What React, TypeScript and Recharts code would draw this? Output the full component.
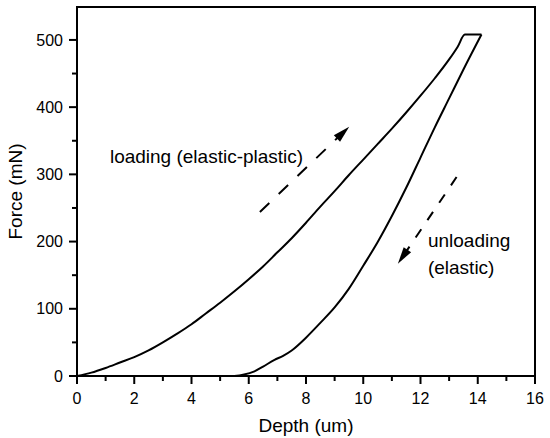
import React from 'react';
import { LineChart, Line, XAxis, YAxis, ReferenceArea, ReferenceDot } from 'recharts';

const FONT = '"Liberation Sans", Arial, sans-serif';

// loading branch (incl. hold at peak)
const loadDepth = [0, 0.5, 1, 1.5, 2, 2.5, 3, 3.5, 4, 4.5, 5, 5.5, 6, 6.5, 7, 7.5, 8, 8.5, 9, 9.5, 10, 10.5, 11, 11.5, 12, 12.5, 13, 13.3, 13.55, 14.13];
const loadForce = [0, 5, 12, 20, 28, 38, 50, 63, 77, 93, 109, 126, 144, 163, 184, 205, 228, 252, 275, 299, 322, 345, 368, 392, 417, 443, 471, 490, 508, 508];

// unloading branch (listed from residual depth up to peak)
const unloadDepth = [5.5, 5.8, 6.2, 6.5, 6.9, 7.2, 7.5, 8, 8.5, 9, 9.5, 10, 10.5, 11, 11.5, 12, 12.5, 13, 13.5, 14.13];
const unloadForce = [0, 2, 7, 14, 24, 30, 38, 57, 79, 102, 130, 164, 199, 238, 280, 325, 370, 413, 456, 508];

// dashed direction arrows: [start, tip]
const loadArrowDepth = [6.39, 9.51];
const loadArrowForce = [244, 371];
const unloadArrowDepth = [13.26, 11.21];
const unloadArrowForce = [296, 167];

const xTicks = [0, 1, 2, 3, 4, 5, 6, 7, 8, 9, 10, 11, 12, 13, 14, 15, 16];
const yTicks = [0, 50, 100, 150, 200, 250, 300, 350, 400, 450, 500];

const toRows = (xs: number[], ys: number[]) => xs.map((d, i) => ({ depth: d, force: ys[i] }));

const loading = toRows(loadDepth, loadForce);
const unloading = toRows(unloadDepth, unloadForce);
const loadArrow = toRows(loadArrowDepth, loadArrowForce);
const unloadArrow = toRows(unloadArrowDepth, unloadArrowForce);

function XTick(props: any) {
  const { x, y, payload } = props;
  const major = payload.value % 2 === 0;
  return (
    <g>
      <line x1={x} x2={x} y1={y} y2={y + (major ? 8 : 5)} stroke="#000" strokeWidth={2} />
      {major && (
        <text x={x} y={y + 28} textAnchor="middle" fontSize={16} fontFamily={FONT} fill="#000">
          {payload.value}
        </text>
      )}
    </g>
  );
}

function YTick(props: any) {
  const { x, y, payload } = props;
  const major = payload.value % 100 === 0;
  return (
    <g>
      <line x1={x} x2={x - (major ? 8 : 5)} y1={y} y2={y} stroke="#000" strokeWidth={2} />
      {major && (
        <text x={x - 14} y={y + 5.6} textAnchor="end" fontSize={16} fontFamily={FONT} fill="#000">
          {payload.value}
        </text>
      )}
    </g>
  );
}

function ArrowDot(props: any) {
  const { cx, cy, index, points } = props;
  if (index !== 1 || !points || points.length < 2) return <g key={index} />;
  const p0 = points[0];
  const ang = Math.atan2(cy - p0.y, cx - p0.x);
  const len = 17;
  const hw = 4.5;
  const bx = cx - len * Math.cos(ang);
  const by = cy - len * Math.sin(ang);
  const nx = -Math.sin(ang) * hw;
  const ny = Math.cos(ang) * hw;
  return (
    <polygon
      key={index}
      points={`${cx},${cy} ${bx + nx},${by + ny} ${bx - nx},${by - ny}`}
      fill="#000"
    />
  );
}

const note = (text: string) => (p: any) => (
  <text x={p.cx} y={p.cy} dominantBaseline="central" fontSize={19} fontFamily={FONT} fill="#000">
    {text}
  </text>
);

export default function App() {
  return (
    <div style={{ width: 550, height: 438 }}>
      <style>{'body{margin:0}'}</style>
      <LineChart width={550} height={438} margin={{ top: 7, right: 15, bottom: 0, left: 0 }}>
        <XAxis
          dataKey="depth"
          type="number"
          domain={[0, 16]}
          ticks={xTicks}
          interval={0}
          height={62}
          tickSize={0}
          tickMargin={0}
          tickLine={false}
          tick={XTick}
          axisLine={{ stroke: '#000', strokeWidth: 2 }}
          label={{ value: 'Depth (um)', position: 'insideBottom', offset: 6, fontSize: 19, fontFamily: FONT, fill: '#000' }}
        />
        <YAxis
          dataKey="force"
          type="number"
          domain={[0, 549]}
          ticks={yTicks}
          interval={0}
          width={77}
          tickSize={0}
          tickMargin={0}
          tickLine={false}
          tick={YTick}
          axisLine={{ stroke: '#000', strokeWidth: 2 }}
          label={{ value: 'Force (mN)', angle: -90, position: 'insideLeft', offset: 15, fontSize: 19, fontFamily: FONT, fill: '#000', style: { textAnchor: 'middle' } }}
        />
        <ReferenceArea x1={0} x2={16} y1={0} y2={549} fill="none" stroke="#000" strokeWidth={2} />
        <Line data={loading} dataKey="force" type="monotone" stroke="#000" strokeWidth={2} dot={false} isAnimationActive={false} />
        <Line data={unloading} dataKey="force" type="monotone" stroke="#000" strokeWidth={2} dot={false} isAnimationActive={false} />
        <Line data={loadArrow} dataKey="force" type="linear" stroke="#000" strokeWidth={2} strokeDasharray="13 13" dot={ArrowDot} isAnimationActive={false} />
        <Line data={unloadArrow} dataKey="force" type="linear" stroke="#000" strokeWidth={2} strokeDasharray="10 11" dot={ArrowDot} isAnimationActive={false} />
        <ReferenceDot x={1.15} y={326} r={0} shape={note('loading (elastic-plastic)')} />
        <ReferenceDot x={12.26} y={201} r={0} shape={note('unloading')} />
        <ReferenceDot x={12.26} y={162} r={0} shape={note('(elastic)')} />
      </LineChart>
    </div>
  );
}
